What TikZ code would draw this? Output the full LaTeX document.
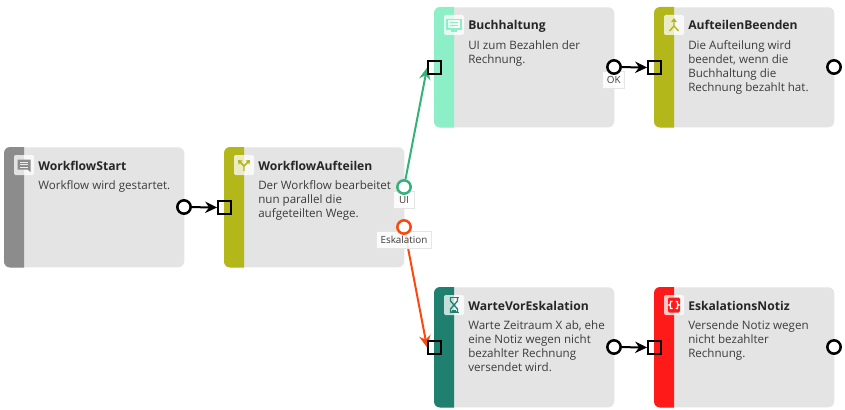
\documentclass[tikz,border=0pt]{standalone}
\usepackage{fontspec}
\setmainfont{Open Sans}
\usetikzlibrary{arrows.meta,calc}

\definecolor{cardgray}{HTML}{E4E4E4}
\definecolor{startgray}{HTML}{8C8C8C}
\definecolor{splitolive}{HTML}{B3B719}
\definecolor{uimint}{HTML}{8DEFC8}
\definecolor{waitteal}{HTML}{1F8070}
\definecolor{notered}{HTML}{FF1A1A}
\definecolor{flowgreen}{HTML}{35B27A}
\definecolor{floworange}{HTML}{F9490F}
\definecolor{textgray}{HTML}{3C3C3C}

\pgfdeclarelayer{cardlayer}
\pgfdeclarelayer{flowlayer}
\pgfsetlayers{cardlayer,flowlayer,main}

\tikzset{
    card/.style={fill=cardgray, rounded corners=4.5pt, minimum width=135pt, minimum height=90pt, inner sep=0pt, anchor=north west},
    icon/.style={fill=white, fill opacity=0.75, rounded corners=1pt, minimum size=15pt, inner sep=0pt},
    title/.style={anchor=base west, inner sep=0pt, font=\fontsize{9.1}{12}\selectfont\bfseries, text=black!85},
    desc/.style={anchor=north west, inner sep=0pt, align=left, font=\fontsize{8.7}{10.5}\selectfont, text=textgray},
    inport/.style={draw=black, line width=1.1pt, minimum size=10pt, inner sep=0pt},
    outport/.style={circle, draw=#1, fill=white, line width=1.9pt, minimum size=10pt, inner sep=0pt},
    outport/.default=black,
    portlabel/.style={draw=black!10, fill=white, fill opacity=0.88, text opacity=1, inner sep=0pt, minimum height=12.5pt, font=\fontsize{7.4}{9}\selectfont, text=textgray},
    flow/.style={line width=1.5pt, -{Stealth[length=9pt,width=8.5pt,inset=3pt]}},
}

% name, x, y, colour, title, text
\newcommand{\wfcard}[6]{
    \node[card] (#1) at (#2,#3) {};
    \fill[#4] ($(#1.north west)+(20,0)$) [rounded corners=4.5pt] -- (#1.north west) -- (#1.south west) [sharp corners] -- ($(#1.south west)+(20,0)$) -- cycle;
    \node[icon] (#1icon) at ($(#1.north west)+(20,18)$) {};
    \node[title] (#1title) at ($(#1.north west)+(34,23)$) {#5};
    \node[desc] (#1desc) at ($(#1.north west)+(34,33)$) {#6};
}

\begin{document}
\begin{tikzpicture}[x=0.75pt, y=-0.75pt]

    \useasboundingbox (0,0) rectangle (845,410);

    \begin{pgfonlayer}{cardlayer}

    % Draw the cards
    \wfcard{start}{4}{147}{startgray}{WorkflowStart}{Workflow wird gestartet.}
    \wfcard{split}{224}{147}{splitolive}{WorkflowAufteilen}{Der Workflow bearbeitet\\nun parallel die\\aufgeteilten Wege.}
    \wfcard{ui}{434}{7}{uimint}{Buchhaltung}{UI zum Bezahlen der\\Rechnung.}
    \wfcard{join}{654}{7}{splitolive}{AufteilenBeenden}{Die Aufteilung wird\\beendet, wenn die\\Buchhaltung die\\Rechnung bezahlt hat.}
    \wfcard{wait}{434}{287}{waitteal}{WarteVorEskalation}{Warte Zeitraum X ab, ehe\\eine Notiz wegen nicht\\bezahlter Rechnung\\versendet wird.}
    \wfcard{note}{654}{287}{notered}{EskalationsNotiz}{Versende Notiz wegen\\nicht bezahlter\\Rechnung.}

    % Icons
    \begin{scope}[shift={(starticon.center)}]
        \fill[startgray] (-6.5,-5.5) rectangle (6.5,4.5) (3.5,4.5) -- (6.5,4.5) -- (6.5,7) -- cycle;
        \foreach \y in {-3,-0.5,2} {
            \draw[white!85!startgray, line width=0.7pt] (-4,\y) -- (4,\y);
        }
    \end{scope}
    \begin{scope}[shift={(spliticon.center)}, splitolive, line width=1.1pt]
        \draw (0,6) -- (0,1) -- (-4,-3);
        \draw (0,1) -- (4,-3);
        \fill (-6,-5) -- (-1.5,-4.5) -- (-5.5,-0.5) -- cycle;
        \fill (6,-5) -- (1.5,-4.5) -- (5.5,-0.5) -- cycle;
    \end{scope}
    \begin{scope}[shift={(uiicon.center)}, uimint]
        \draw[line width=1.1pt] (-7,-5.5) rectangle (7,4);
        \draw[line width=0.8pt] (-4,-2.5) -- (4,-2.5) (-4,0.5) -- (4,0.5);
        \draw[line width=1.2pt] (-3,6) -- (3,6);
    \end{scope}
    \begin{scope}[shift={(joinicon.center)}, splitolive, line width=1.1pt]
        \draw (0,-4) -- (0,1) -- (-4.5,6);
        \draw (0,1) -- (4.5,6);
        \fill (0,-7) -- (-3,-3) -- (3,-3) -- cycle;
    \end{scope}
    \begin{scope}[shift={(waiticon.center)}, waitteal]
        \draw[line width=1.3pt] (-4.5,-7.5) -- (4.5,-7.5) (-4.5,7.5) -- (4.5,7.5);
        \draw[line width=1pt] (-3.5,-7) -- (-3.5,-4) -- (3.5,4) -- (3.5,7) -- (-3.5,7) -- (-3.5,4) -- (3.5,-4) -- (3.5,-7);
        \fill (-2,5) -- (2,5) -- (2,7) -- (-2,7) -- cycle;
    \end{scope}
    \begin{scope}[shift={(noteicon.center)}, notered]
        \fill[rounded corners=1pt] (-6,-7.5) rectangle (6,7.5);
        \draw[white, line width=1pt] (-1.5,-3.5) -- (-3.5,-3.5) -- (-3.5,-1) -- (-5,0) -- (-3.5,1) -- (-3.5,3.5) -- (-1.5,3.5);
        \draw[white, line width=1pt] (1.5,-3.5) -- (3.5,-3.5) -- (3.5,-1) -- (5,0) -- (3.5,1) -- (3.5,3.5) -- (1.5,3.5);
    \end{scope}

    \end{pgfonlayer}

    % Port labels
    \node[portlabel, minimum width=15.5pt] (uilabel) at (404,200) {UI};
    \node[portlabel, minimum width=41pt] (esklabel) at (404,240) {Eskalation};
    \node[portlabel, minimum width=16.5pt] (oklabel) at (613.7,80) {OK};

    % Input ports
    \node[inport] (splitin) at (224.5,207.5) {};
    \node[inport] (uiin) at (434.5,67.5) {};
    \node[inport] (joinin) at (654.5,67.5) {};
    \node[inport] (waitin) at (434.5,347.5) {};
    \node[inport] (notein) at (654.5,347.5) {};

    % Output ports
    \node[outport] (startout) at (184,207) {};
    \node[outport=flowgreen] (splitoutui) at (404,187) {};
    \node[outport=floworange] (splitoutesk) at (404,227) {};
    \node[outport] (uiout) at (614,67) {};
    \node[outport] (joinout) at (834,67) {};
    \node[outport] (waitout) at (614,347) {};
    \node[outport] (noteout) at (834,347) {};

    % Connections
    \begin{pgfonlayer}{flowlayer}
    \draw[flow, black] (startout) -- (splitin.west);
    \draw[flow, black] (uiout) -- (joinin.west);
    \draw[flow, black] (waitout) -- (notein.west);
    \draw[flow, flowgreen] (splitoutui) -- (uiin.west);
    \draw[flow, floworange] (splitoutesk) -- (waitin.west);
    \end{pgfonlayer}

\end{tikzpicture}
\end{document}
